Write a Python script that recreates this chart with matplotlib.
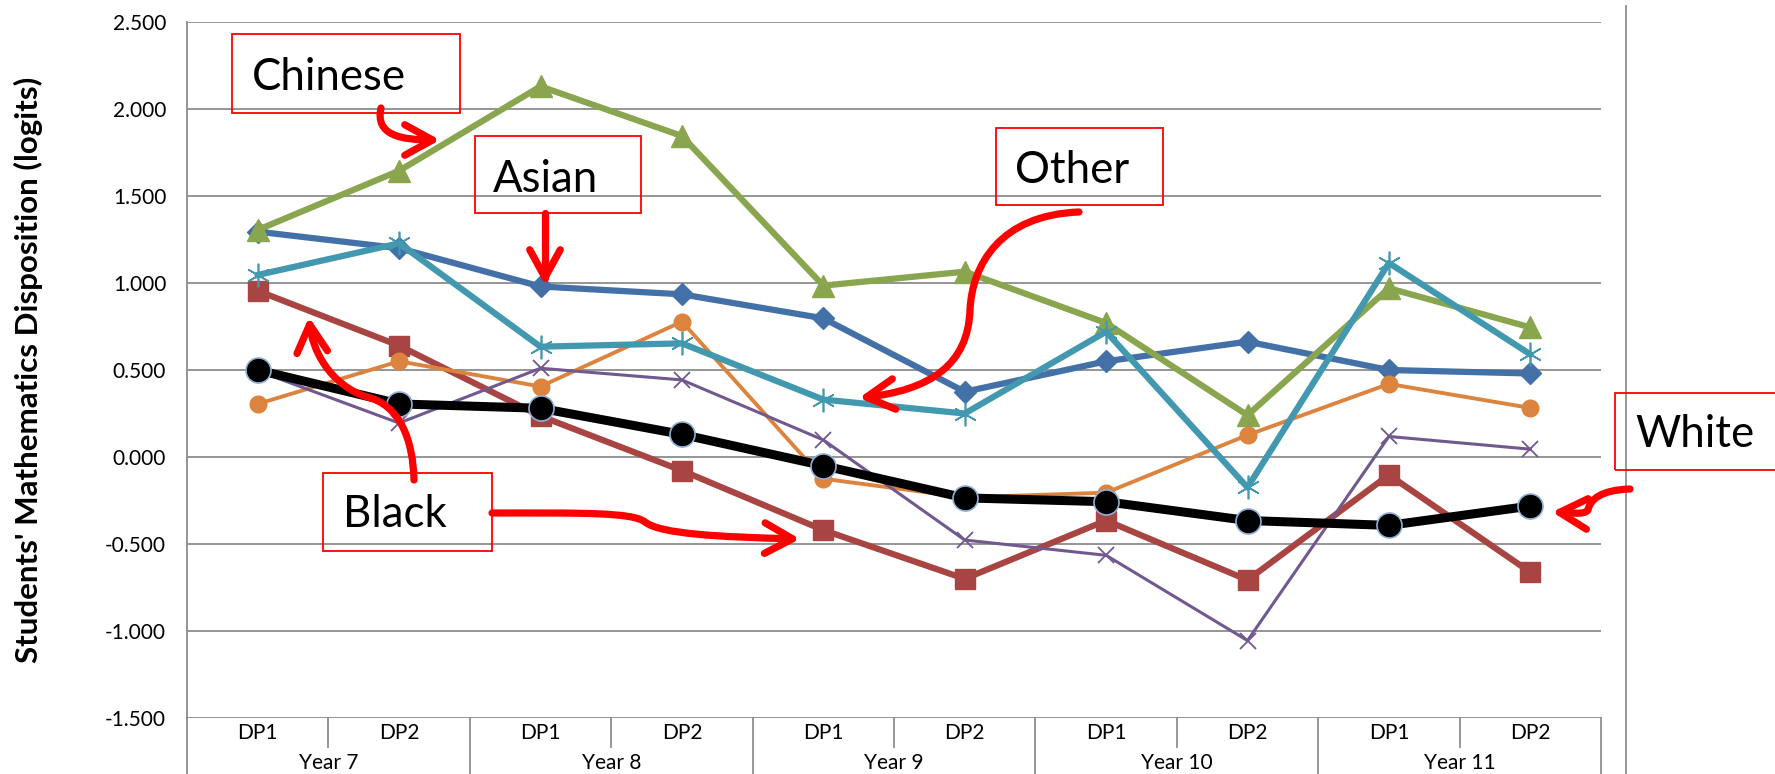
import numpy as np
import matplotlib
matplotlib.use('Agg')
import matplotlib.pyplot as plt
from matplotlib.patches import Rectangle, FancyArrowPatch
from matplotlib.path import Path
from matplotlib.lines import Line2D

plt.rcParams['font.family'] = ['Lato', 'DejaVu Sans']

# data
points = ['DP1', 'DP2'] * 5
years = ['Year 7', 'Year 8', 'Year 9', 'Year 10', 'Year 11']

asian = [1.295, 1.200, 0.980, 0.935, 0.797, 0.375, 0.550, 0.663, 0.500, 0.480]
black = [0.955, 0.640, 0.235, -0.078, -0.420, -0.700, -0.365, -0.707, -0.103, -0.662]
chinese = [1.305, 1.645, 2.130, 1.845, 0.985, 1.065, 0.770, 0.240, 0.970, 0.745]
orange = [0.305, 0.550, 0.405, 0.778, -0.125, -0.232, -0.205, 0.126, 0.420, 0.282]
purple = [0.495, 0.195, 0.510, 0.443, 0.098, -0.477, -0.565, -1.055, 0.118, 0.045]
other = [1.046, 1.228, 0.634, 0.653, 0.330, 0.250, 0.720, -0.175, 1.115, 0.590]
white = [0.500, 0.305, 0.280, 0.130, -0.050, -0.235, -0.257, -0.365, -0.393, -0.282]

W, H = 1775, 774
fig = plt.figure(figsize=(W / 100, H / 100), dpi=100)
ax = fig.add_axes([187 / W, 1 - 718 / H, (1601 - 187) / W, (718 - 22) / H])

x = np.arange(len(points))
grey = '#8c8c8c'

ax.plot(x, asian, color='#4470a8', lw=4.5, marker='D', ms=11, zorder=3)
ax.plot(x, black, color='#a84542', lw=4.5, marker='s', ms=15, zorder=3)
ax.plot(x, chinese, color='#89a54e', lw=4.5, marker='^', ms=16, zorder=3)
ax.plot(x, orange, color='#dc843e', lw=2.8, marker='o', ms=12, zorder=3)
ax.plot(x, purple, color='#71588f', lw=2.2, marker='x', ms=12, mew=1.3, zorder=3)
ax.plot(x, other, color='#4198af', lw=4.5, marker=(6, 2, 0), ms=17, mew=1.2, zorder=3)
ax.plot(x, white, color='black', lw=6.5, marker='o', ms=18, mec='#8fb0d8', mew=1.2, zorder=4)

ax.set_xlim(-0.5, 9.5)
ax.set_ylim(-1.5, 2.5)
ax.set_yticks(np.arange(-1.5, 2.51, 0.5))
ax.set_yticklabels(['%.3f' % v for v in np.arange(-1.5, 2.51, 0.5)], fontsize=15)
ax.tick_params(axis='y', length=0, pad=15)
ax.set_xticks([])
ax.yaxis.grid(True, color=grey, lw=1.3)
ax.set_axisbelow(True)
for s in ['top', 'right', 'bottom']:
    ax.spines[s].set_visible(False)
ax.spines['left'].set_color(grey)
ax.spines['left'].set_linewidth(1.3)

# category axis (two levels)
bot = -(H - 718) / 696
for i in range(11):
    xb = i - 0.5
    y1 = bot if i % 2 == 0 else -0.042
    ax.add_line(Line2D([xb, xb], [0, y1], transform=ax.get_xaxis_transform(),
                       color=grey, lw=1.3, clip_on=False))
for i, p in enumerate(points):
    ax.text(i, -0.0215, p, transform=ax.get_xaxis_transform(), ha='center',
            va='center', fontsize=15)
for j, yr in enumerate(years):
    ax.text(2 * j + 0.5, -0.064, yr, transform=ax.get_xaxis_transform(),
            ha='center', va='center', fontsize=15)

fig.text(28 / W, 1 - 370 / H, "Students' Mathematics Disposition (logits)",
         rotation=90, ha='center', va='center', fontsize=22.5, fontweight='bold')

fig.add_artist(Line2D([1626 / W] * 2, [0, 1 - 6 / H], transform=fig.transFigure,
                      color=grey, lw=1.3))


def P(px, py):
    return (px / W, 1 - py / H)


# labelled boxes
boxes = [('Chinese', 232, 34, 460, 113, 252, 90),
         ('Asian', 475, 136, 641, 213, 493, 192),
         ('Other', 996, 128, 1163, 205, 1015, 183),
         ('Black', 323, 473, 492, 551, 343, 527),
         ('White', 1615, 393, 1790, 470, 1635, 447)]
for label, x0, y0, x1, y1, tx, ty in boxes:
    fig.add_artist(Rectangle(P(x0, y1), (x1 - x0) / W, (y1 - y0) / H,
                             transform=fig.transFigure, fill=False,
                             ec='#ff0000', lw=1.3, zorder=5))
    fig.text(*P(tx, ty), label, fontsize=31.5, ha='left', va='baseline', zorder=6)

# red curved arrows
M, C4, L2 = Path.MOVETO, Path.CURVE4, Path.LINETO
arrows = [
    [(381, 108), (375, 135), (400, 140), (440, 140)],
    [(545, 213), (545, 285)],
    [(1079, 212), (1000, 215), (972, 265), (970, 310),
     (968, 365), (930, 390), (859, 398)],
    [(414, 480), (413, 440), (400, 405), (367, 397),
     (330, 385), (312, 350), (309, 317)],
    [(492, 513), (580, 513), (632, 512), (645, 522),
     (660, 534), (720, 537), (800, 539)],
    [(1630, 489), (1600, 490), (1590, 500), (1588, 510),
     (1585, 515), (1570, 513), (1552, 512)],
]
for pts in arrows:
    verts = [P(*p) for p in pts]
    if len(verts) == 2:
        codes = [M, L2]
    else:
        codes = [M] + [C4] * (len(verts) - 1)
    fig.add_artist(FancyArrowPatch(path=Path(verts, codes), transform=fig.transFigure,
                                   arrowstyle='->,head_length=1.0,head_width=0.55',
                                   mutation_scale=20, color='#ff0000', lw=5.2,
                                   zorder=7))

fig.savefig('out.png', dpi=100)
